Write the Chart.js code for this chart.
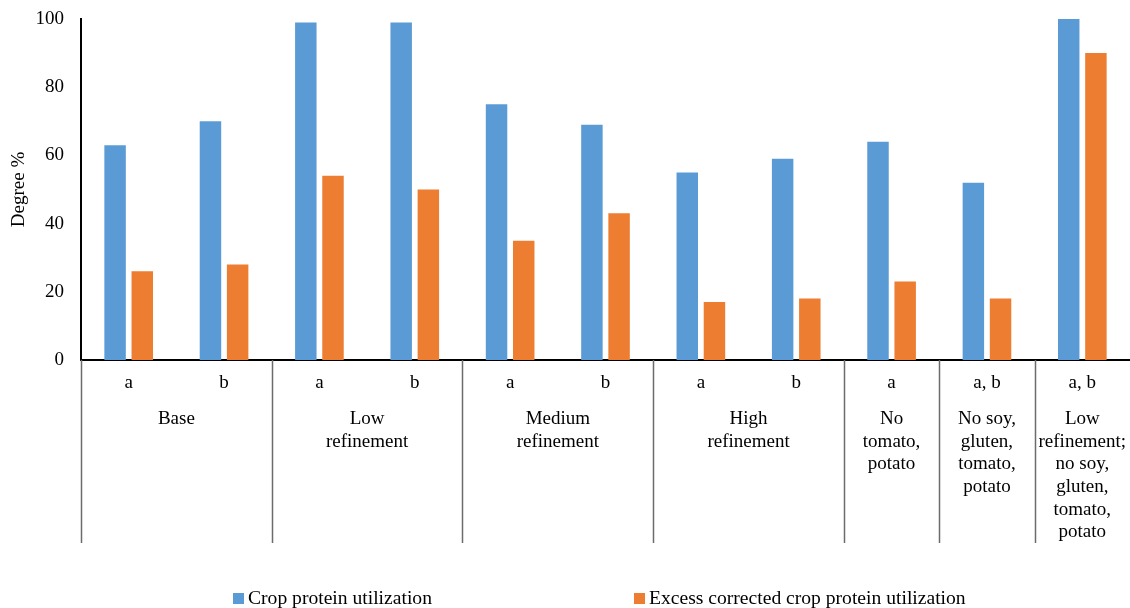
<!DOCTYPE html>
<html>
<head>
<meta charset="utf-8">
<script src="https://cdn.jsdelivr.net/npm/chart.js@4.4.1/dist/chart.umd.min.js"></script>
<style>
  html, body { margin: 0; padding: 0; background: #fff; }
  #wrap { width: 1130px; height: 608px; position: relative; }
</style>
</head>
<body>
<div id="wrap"><canvas id="chart"></canvas></div>
<script>
// ---- DATA
var subLabels = ['a', 'b', 'a', 'b', 'a', 'b', 'a', 'b', 'a', 'a, b', 'a, b'];
var groupLabels = [
  ['Base'],
  ['Low', 'refinement'],
  ['Medium', 'refinement'],
  ['High', 'refinement'],
  ['No', 'tomato,', 'potato'],
  ['No soy,', 'gluten,', 'tomato,', 'potato'],
  ['Low', 'refinement;', 'no soy,', 'gluten,', 'tomato,', 'potato']
];
var groupSpans = [2, 2, 2, 2, 1, 1, 1];   // how many categories each group covers
var cropProtein     = [63, 70, 99, 99, 75, 69, 55, 59, 64, 52, 100];
var excessCorrected = [26, 28, 54, 50, 35, 43, 17, 18, 23, 18, 90];
var seriesNames  = ['Crop protein utilization', 'Excess corrected crop protein utilization'];
var seriesColors = ['#5B9BD5', '#ED7D31'];
var yTicks = [0, 20, 40, 60, 80, 100];

var FONT = '"Liberation Serif", "Times New Roman", serif';

// ---- GROUP LABELS, SEPARATORS AND LEGEND
var groupAxisPlugin = {
  id: 'groupAxis',
  afterDraw: function (chart) {
    var ctx = chart.ctx;
    var xs = chart.scales.x;
    var area = chart.chartArea;
    var catW = xs.getPixelForValue(1) - xs.getPixelForValue(0);
    var lineBottom = 543;

    ctx.save();
    ctx.font = '19px ' + FONT;
    ctx.fillStyle = '#000';
    ctx.textAlign = 'center';
    ctx.textBaseline = 'middle';

    var idx = 0;
    for (var g = 0; g < groupLabels.length; g++) {
      var startX = xs.getPixelForValue(idx) - catW / 2;
      var endX = xs.getPixelForValue(idx + groupSpans[g] - 1) + catW / 2;

      // separator line
      ctx.strokeStyle = '#6b6b6b';
      ctx.lineWidth = 1.5;
      ctx.beginPath();
      ctx.moveTo(Math.round(startX) + 0.5, area.bottom);
      ctx.lineTo(Math.round(startX) + 0.5, lineBottom);
      ctx.stroke();

      var cx = (startX + endX) / 2;
      for (var l = 0; l < groupLabels[g].length; l++) {
        ctx.fillText(groupLabels[g][l], cx, area.bottom + 59 + l * 22.7);
      }
      idx += groupSpans[g];
    }

    // legend
    var legendX = [233, 634];
    var legendY = 598;
    ctx.font = '19.6px ' + FONT;
    ctx.textAlign = 'left';
    for (var s = 0; s < seriesNames.length; s++) {
      ctx.fillStyle = seriesColors[s];
      ctx.fillRect(legendX[s], legendY - 5, 11, 11);
      ctx.fillStyle = '#000';
      ctx.fillText(seriesNames[s], legendX[s] + 15, legendY + 1);
    }
    ctx.restore();
  }
};

const ctx = document.getElementById('chart').getContext('2d');
var myChart = new Chart(ctx, {
  type: 'bar',
  data: {
    labels: subLabels,
    datasets: [{
      label: seriesNames[0],
      data: cropProtein,
      backgroundColor: seriesColors[0],
      categoryPercentage: 0.57,
      barPercentage: 0.79
    }, {
      label: seriesNames[1],
      data: excessCorrected,
      backgroundColor: seriesColors[1],
      categoryPercentage: 0.57,
      barPercentage: 0.79
    }]
  },
  options: {
    responsive: true,
    maintainAspectRatio: false,
    animation: false,
    layout: { padding: { top: 19, right: 0, bottom: 0, left: 0 } },
    plugins: {
      legend: { display: false },
      tooltip: { enabled: false }
    },
    scales: {
      x: {
        grid: { display: false, drawTicks: false },
        border: { display: true, color: '#000', width: 2 },
        ticks: {
          color: '#000',
          font: { family: FONT, size: 19 },
          padding: 12,
          maxRotation: 0,
          autoSkip: false
        },
        afterFit: function (scale) { scale.height = 248; }
      },
      y: {
        min: 0,
        max: 100,
        grid: { display: false, drawTicks: false },
        border: { display: true, color: '#000', width: 2 },
        afterBuildTicks: function (scale) {
          scale.ticks = yTicks.map(function (v) { return { value: v }; });
        },
        ticks: {
          color: '#000',
          font: { family: FONT, size: 19 },
          padding: 17
        },
        title: {
          display: true,
          text: 'Degree %',
          color: '#000',
          font: { family: FONT, size: 19 },
          padding: { top: 8, bottom: 0 }
        },
        afterFit: function (scale) {
          scale.width = 81;
          scale.paddingTop = 0;
          scale.paddingBottom = 0;
        }
      }
    }
  },
  plugins: [groupAxisPlugin]
});
</script>
</body>
</html>
